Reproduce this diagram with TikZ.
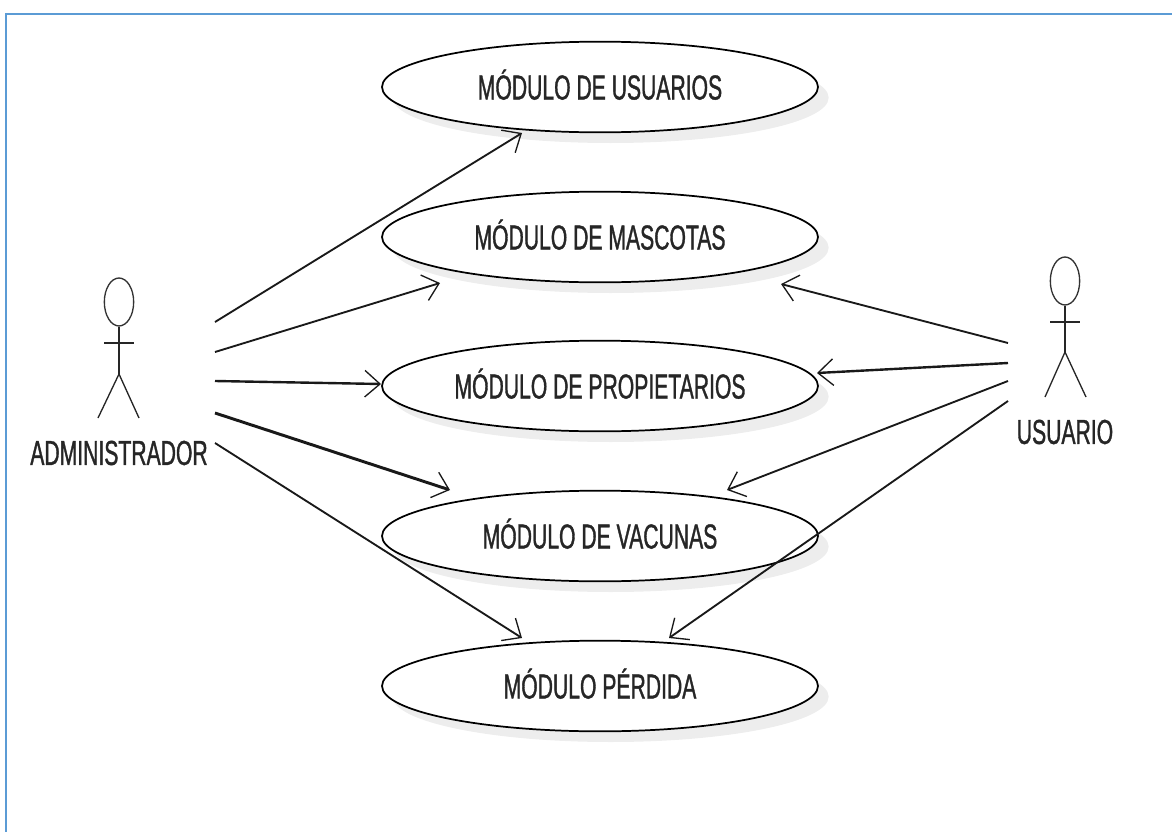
\documentclass[tikz,border=0pt]{standalone}
\usepackage{fontspec}
\setmainfont[FakeStretch=0.61, FakeBold=1]{Liberation Sans}
\definecolor{framedblue}{RGB}{91,155,213}
\usetikzlibrary{shapes.geometric, arrows.meta, calc, shadows}

\begin{document}
\begin{tikzpicture}[
    x=0.75pt, y=-0.75pt,
    modulo/.style={ellipse, draw=black, fill=white, line width=1.3pt, minimum width=327pt, minimum height=68pt, inner sep=0pt, text depth=3.8pt, font=\fontsize{26}{30}\selectfont, text=black!85, drop shadow={shadow xshift=8pt, shadow yshift=-8pt, fill=black!7, opacity=1}},
    actor/.style={font=\fontsize{26}{30}\selectfont, text=black!85, inner sep=0pt},
    head/.style={ellipse, draw=black!80, line width=1pt, minimum width=22pt, minimum height=36pt, inner sep=0pt},
    limb/.style={draw=black!85, line width=1pt},
    arrow/.style={-{Straight Barb[length=4mm, width=7mm, line width=1pt]}, line width=1.4pt, black!90}
]
\useasboundingbox (0,0) rectangle (1172,832);
\draw[framedblue, line width=1.5pt] (1172,14) -- (6,14) -- (6,832);

% casos de uso
\node[modulo] (usuarios) at (600,87) {MÓDULO DE USUARIOS};
\node[modulo] (mascotas) at (600,237) {MÓDULO DE MASCOTAS};
\node[modulo] (propietarios) at (600,386) {MÓDULO DE PROPIETARIOS};
\node[modulo] (vacunas) at (600,536) {MÓDULO DE VACUNAS};
\node[modulo] (perdida) at (600,686) {MÓDULO PÉRDIDA};

% actores
\node[head] (adminhead) at (119,302) {};
\node[actor] (admin) at (119,453) {ADMINISTRADOR};
\coordinate (adminhip) at (119,374);
\draw[limb] (adminhead.south) -- (adminhip);
\draw[limb] (104,343) -- (134,343);
\draw[limb] (98,418) -- (adminhip) -- (139,418);

\node[head] (userhead) at (1065,281) {};
\node[actor] (user) at (1065,432) {USUARIO};
\coordinate (userhip) at (1065,352);
\draw[limb] (userhead.south) -- (userhip);
\draw[limb] (1050,322) -- (1080,322);
\draw[limb] (1045,397) -- (userhip) -- (1086,397);

% salidas de las flechas
\coordinate (adminA) at (215,322);
\coordinate (adminB) at (215,352);
\coordinate (adminC) at (215,381);
\coordinate (adminD) at (215,413);
\coordinate (adminE) at (215,443);
\coordinate (userA) at (1008,343);
\coordinate (userB) at (1008,363);
\coordinate (userC) at (1008,381);
\coordinate (userD) at (1008,401);

\draw[arrow] (adminA) -- ($(usuarios)+(-78,46)$);
\draw[arrow] (adminB) -- ($(mascotas)+(-160,46)$);
\draw[arrow, line width=1.8pt] (adminC) -- ($(propietarios)+(-219,-2)$);
\draw[arrow, line width=2.2pt] (adminD) -- ($(vacunas)+(-150,-46)$);
\draw[arrow] (adminE) -- ($(perdida)+(-78,-48)$);
\draw[arrow] (userA) -- ($(mascotas)+(181,47)$);
\draw[arrow, line width=1.8pt] (userB) -- ($(propietarios)+(217,-13)$);
\draw[arrow] (userC) -- ($(vacunas)+(127,-46)$);
\draw[arrow] (userD) -- ($(perdida)+(69,-48)$);
\end{tikzpicture}
\end{document}
